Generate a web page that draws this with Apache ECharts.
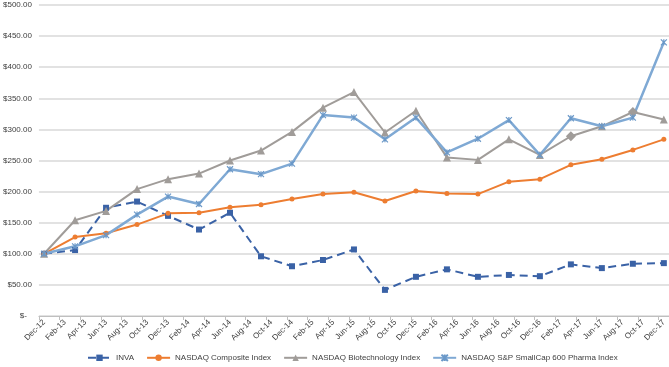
<!DOCTYPE html>
<html>
<head>
<meta charset="utf-8">
<script src="https://cdn.jsdelivr.net/npm/echarts@6/dist/echarts.min.js"></script>
<style>
html,body{margin:0;padding:0;background:#fff;}
#c{width:669px;height:367px;}
</style>
</head>
<body>
<div id="c"></div>
<script>
// Monthly category axis (Dec-12 .. Dec-17); labels shown every 2 months
var months = [
 'Dec-12','Jan-13','Feb-13','Mar-13','Apr-13','May-13','Jun-13','Jul-13','Aug-13','Sep-13','Oct-13','Nov-13',
 'Dec-13','Jan-14','Feb-14','Mar-14','Apr-14','May-14','Jun-14','Jul-14','Aug-14','Sep-14','Oct-14','Nov-14',
 'Dec-14','Jan-15','Feb-15','Mar-15','Apr-15','May-15','Jun-15','Jul-15','Aug-15','Sep-15','Oct-15','Nov-15',
 'Dec-15','Jan-16','Feb-16','Mar-16','Apr-16','May-16','Jun-16','Jul-16','Aug-16','Sep-16','Oct-16','Nov-16',
 'Dec-16','Jan-17','Feb-17','Mar-17','Apr-17','May-17','Jun-17','Jul-17','Aug-17','Sep-17','Oct-17','Nov-17',
 'Dec-17'
];
// Quarterly observations: Dec-12, Mar-13, Jun-13, ... Dec-17
var quarters = ['Dec-12','Mar-13','Jun-13','Sep-13','Dec-13','Mar-14','Jun-14','Sep-14','Dec-14','Mar-15','Jun-15',
 'Sep-15','Dec-15','Mar-16','Jun-16','Sep-16','Dec-16','Mar-17','Jun-17','Sep-17','Dec-17'];
var inva      = [100,106,174,184,161,139,166,96,80,90,107,42,63,75,63,66,64,83,77,84,85];
var composite = [100,127,133,147,165,166,175,179,188,196,199,185,201,197,196,216,220,243,252,267,284];
var biotech   = [100,154,169,204,220,229,250,266,296,335,360,295,330,255,251,284,259,289,305,328,316];
var pharma    = [100,112,130,163,192,180,236,228,245,323,319,284,319,263,285,315,259,318,305,319,440];
var yTicks = [0,50,100,150,200,250,300,350,400,450,500];
var names = ['INVA','NASDAQ Composite Index','NASDAQ Biotechnology Index','NASDAQ S&P SmallCap 600 Pharma Index'];
// quarters where the biotech marker appears as a diamond in the source
var diamondQuarters = ['Mar-17','Sep-17'];

function toMonthly(arr, special){
  var out = months.map(function(){return null;});
  quarters.forEach(function(q,i){
    var v = arr[i];
    if (special && special.indexOf(q) >= 0) v = {value:v, symbol:'diamond', symbolSize:10};
    out[months.indexOf(q)] = v;
  });
  return out;
}

var FONT = '"Liberation Sans", Arial, sans-serif';
var chart = echarts.init(document.getElementById('c'), null, {renderer:'canvas'});
chart.setOption({
  animation:false,
  backgroundColor:'#fff',
  grid:{left:38, right:0, top:5, bottom:51, containLabel:false},
  legend:{
    bottom:0, left:82, itemGap:12, itemWidth:23, itemHeight:8,
    textStyle:{fontSize:8, color:'#404040', fontFamily:FONT},
    data:names
  },
  xAxis:{
    type:'category', data:months, boundaryGap:true,
    axisLine:{lineStyle:{color:'#bfbfbf', width:1}},
    axisTick:{show:true, interval:1, length:4, lineStyle:{color:'#bfbfbf'}},
    axisLabel:{interval:1, rotate:45, fontSize:8, color:'#404040', fontFamily:FONT, margin:5}
  },
  yAxis:{
    type:'value', min:yTicks[0], max:yTicks[yTicks.length-1], interval:50,
    axisLine:{show:false}, axisTick:{show:false},
    splitLine:{lineStyle:{color:'#d9d9d9', width:1.5}},
    axisLabel:{fontSize:8, color:'#404040', fontFamily:FONT, margin:7,
      formatter:function(v){ return v===0 ? '{z|$-}' : '$'+v.toFixed(2); },
      rich:{z:{fontSize:8, color:'#404040', fontFamily:FONT, padding:[0,5,0,0]}}
    }
  },
  series:[
    {name:names[0], type:'line', data:toMonthly(inva), connectNulls:true, showAllSymbol:true,
     symbol:'rect', symbolSize:6, color:'#3a62a6',
     lineStyle:{color:'#3a62a6', width:2, type:[8,5]}, itemStyle:{color:'#3a62a6'}},
    {name:names[1], type:'line', data:toMonthly(composite), connectNulls:true, showAllSymbol:true,
     symbol:'circle', symbolSize:5, color:'#ed7d31',
     lineStyle:{color:'#ed7d31', width:2}, itemStyle:{color:'#ed7d31'}},
    {name:names[2], type:'line', data:toMonthly(biotech, diamondQuarters), connectNulls:true, showAllSymbol:true,
     symbol:'triangle', symbolSize:8, color:'#a09c99',
     lineStyle:{color:'#a09c99', width:2}, itemStyle:{color:'#a09c99'}},
    {name:names[3], type:'line', data:toMonthly(pharma), connectNulls:true, showAllSymbol:true,
     symbol:'path://M0,0L10,10M10,0L0,10M5,0L5,10', symbolSize:6, color:'#7fa9d4',
     lineStyle:{color:'#7fa9d4', width:2.5},
     itemStyle:{color:'#7fa9d4', borderColor:'#6a98c8', borderWidth:1.2}}
  ]
});
</script>
</body>
</html>
